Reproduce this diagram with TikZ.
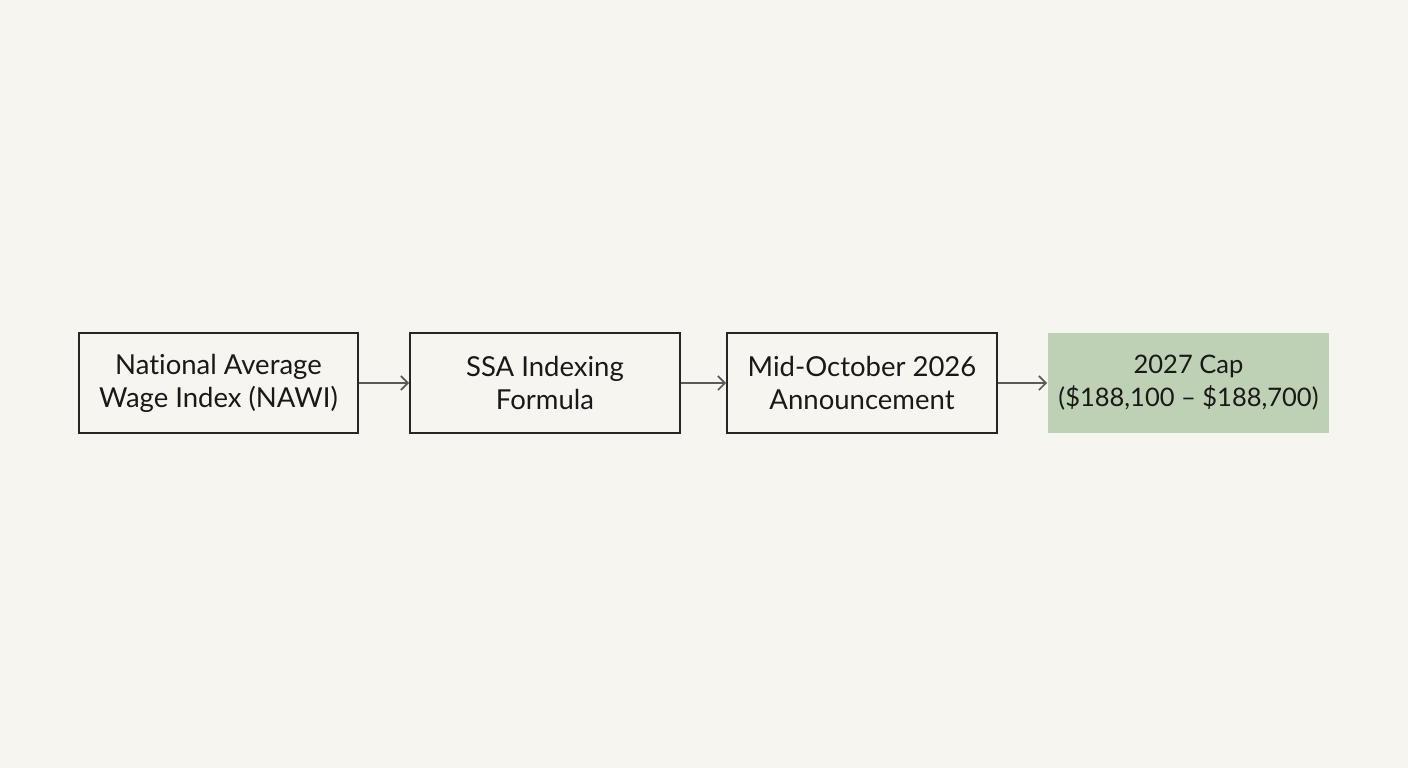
\documentclass[tikz,border=0pt]{standalone}
\usepackage{fontspec}
\setmainfont[Ligatures=NoCommon]{Lato}
\usetikzlibrary{positioning,arrows.meta}
\definecolor{paper}{HTML}{F7F5EF}
\definecolor{capgreen}{HTML}{BFD1B5}
\definecolor{arrowgray}{HTML}{5A5A5A}
\begin{document}
\begin{tikzpicture}
[
    x=1pt, y=-1pt,
    stepbox/.style={draw=black!85,line width=2pt,fill=none,minimum width=270pt,minimum height=100pt,align=center,font=\fontsize{27.5}{33}\selectfont,text=black!90},
    capbox/.style={stepbox,draw=none,fill=capgreen,minimum width=281pt,font=\fontsize{25.5}{33}\selectfont},
    flow/.style={draw=arrowgray,line width=1.6pt,-{Straight Barb[length=7pt,width=14pt]}}
  ]
  \fill[paper] (0,0) rectangle (1408,768);
  \useasboundingbox (0,0) rectangle (1408,768);

  \node[stepbox,minimum width=279pt] (nawi) at (218.5,383) {National Average\\Wage Index (NAWI)};
  \node[stepbox] (formula) at (545,383) {SSA Indexing\\Formula};
  \node[stepbox] (announce) at (862,383) {Mid-October 2026\\Announcement};
  \node[capbox] (cap) at (1188.5,383) {2027 Cap\\(\$188,100 -- \$188,700)};

  \draw[flow] (nawi) -- (formula);
  \draw[flow] (formula) -- (announce);
  \draw[flow] (announce) -- (cap);
\end{tikzpicture}
\end{document}
